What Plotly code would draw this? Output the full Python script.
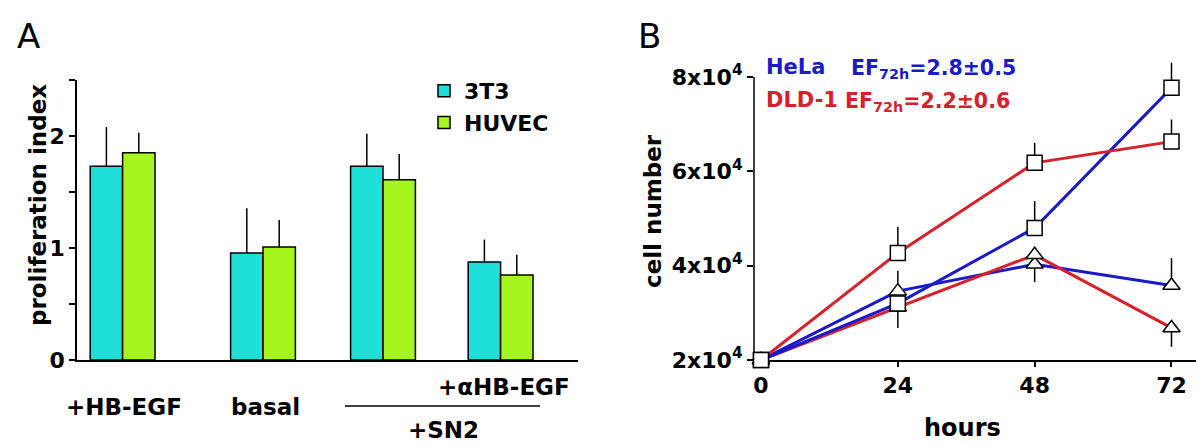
import plotly.graph_objects as go

W, H = 1200, 447

# ---------------- Panel A data ----------------
group_labels = ["+HB-EGF", "basal", "+αHB-EGF"]
t3_mean = [1.73, 0.955, 1.73, 0.875]
t3_err = [0.35, 0.40, 0.29, 0.20]
huvec_mean = [1.85, 1.01, 1.61, 0.76]
huvec_err = [0.18, 0.24, 0.23, 0.18]
a_yticks = [0, 1, 2]
a_yticklabels = ["0", "1", "2"]

# ---------------- Panel B data ----------------
hours = [0, 24, 48, 72]
hela_sq = [2.0e4, 3.2e4, 4.8e4, 7.77e4]
hela_sq_up = [0, 0, 0.57e4, 0.53e4]
hela_sq_dn = [0, 0, 0, 0]
hela_tri = [2.0e4, 3.46e4, 4.03e4, 3.58e4]
hela_tri_up = [0, 0.43e4, 0, 0.58e4]
hela_tri_dn = [0, 0, 0.38e4, 0]
dld_sq = [2.0e4, 4.27e4, 6.18e4, 6.63e4]
dld_sq_up = [0, 0.55e4, 0.42e4, 0.47e4]
dld_sq_dn = [0, 0, 0, 0]
dld_tri = [2.0e4, 3.12e4, 4.23e4, 2.68e4]
dld_tri_up = [0, 0, 0, 0]
dld_tri_dn = [0, 0.44e4, 0, 0.40e4]
b_yticks = [2e4, 4e4, 6e4, 8e4]
b_yticklabels = ["2x10<sup>4</sup>", "4x10<sup>4</sup>", "6x10<sup>4</sup>", "8x10<sup>4</sup>"]

# ---------------- layout helpers (positions / styles) ----------------
def px(x):
    return x / W

def py(y):
    return 1 - y / H

FONT = "DejaVu Sans"
CYAN = "#1fe0d8"
GREEN = "#a6f51e"
BLUE = "#1a1ac8"
RED = "#d8202a"
group_pos = [0.38, 1.55, 2.55, 3.53]
bar_w = 0.27

fig = go.Figure()

fig.add_trace(go.Bar(
    x=group_pos, y=t3_mean, name="<b>3T3</b>", width=bar_w, offset=-bar_w,
    marker=dict(color=CYAN, line=dict(color="black", width=1.5)),
    error_y=dict(type="data", symmetric=False, array=t3_err, arrayminus=[0]*4,
                 width=0, color="black", thickness=1.5),
    xaxis="x", yaxis="y"))
fig.add_trace(go.Bar(
    x=group_pos, y=huvec_mean, name="<b>HUVEC</b>", width=bar_w, offset=0,
    marker=dict(color=GREEN, line=dict(color="black", width=1.5)),
    error_y=dict(type="data", symmetric=False, array=huvec_err, arrayminus=[0]*4,
                 width=0, color="black", thickness=1.5),
    xaxis="x", yaxis="y"))

# Panel B: lines first, then markers on top
series = [
    (hela_tri, hela_tri_up, hela_tri_dn, BLUE, "triangle-up"),
    (dld_tri, dld_tri_up, dld_tri_dn, RED, "triangle-up"),
    (hela_sq, hela_sq_up, hela_sq_dn, BLUE, "square"),
    (dld_sq, dld_sq_up, dld_sq_dn, RED, "square"),
]
for vals, up, dn, col, sym in series:
    fig.add_trace(go.Scatter(x=hours, y=vals, mode="lines",
                             line=dict(color=col, width=3), showlegend=False,
                             xaxis="x2", yaxis="y2"))
for vals, up, dn, col, sym in series:
    fig.add_trace(go.Scatter(
        x=hours, y=vals, mode="markers", showlegend=False, cliponaxis=False,
        marker=dict(symbol=sym, size=15, color="white", line=dict(color="black", width=1.5)),
        error_y=dict(type="data", symmetric=False, array=up, arrayminus=dn,
                     width=0, color="black", thickness=1.5),
        xaxis="x2", yaxis="y2"))

tickfont = dict(family=FONT, size=22, color="black", weight="bold")

fig.update_layout(
    width=W, height=H, margin=dict(l=0, r=0, t=0, b=0, pad=0, autoexpand=False),
    paper_bgcolor="white", plot_bgcolor="white",
    font=dict(family=FONT, color="black"),
    barmode="overlay",
    legend=dict(x=px(424), y=py(70), xanchor="left", yanchor="top",
                font=dict(family=FONT, size=22, color="black"),
                bgcolor="rgba(0,0,0,0)", tracegroupgap=0, itemwidth=30),
    xaxis=dict(domain=[px(77), px(578)], range=[0, 4.175], showline=True,
               linecolor="black", linewidth=1.5, showticklabels=False, ticks="",
               showgrid=False, zeroline=False, anchor="y", automargin=False),
    yaxis=dict(domain=[py(360), py(80)], range=[0, 2.5], tickvals=a_yticks,
               ticktext=a_yticklabels, ticks="outside", ticklen=6, tickwidth=1.5,
               tickcolor="black", showline=True, linecolor="black", linewidth=1.5,
               minor=dict(tick0=0, dtick=0.5, ticks="outside", ticklen=6,
                          tickwidth=1.5, tickcolor="black", showgrid=False),
               showgrid=False, zeroline=False, tickfont=tickfont, anchor="x",
               automargin=False),
    xaxis2=dict(domain=[px(754), px(1196)], range=[-1.23, 76.3], tickvals=hours,
                ticks="outside", ticklen=5, tickwidth=1.5, tickcolor="black",
                showline=True, linecolor="black", linewidth=1.5, showgrid=False,
                zeroline=False, tickfont=tickfont, anchor="y2", layer="below traces",
                automargin=False),
    yaxis2=dict(domain=[py(360), py(48.7)], range=[2e4, 8.6e4], tickvals=b_yticks,
                ticktext=b_yticklabels, ticks="outside", ticklen=6, tickwidth=1.5,
                tickcolor="black", showline=False, showgrid=False, zeroline=False,
                tickfont=tickfont, anchor="x2", layer="below traces", automargin=False),
)

# axis line for panel B y (only up to 8x10^4)
fig.add_shape(type="line", xref="x2 domain", yref="y2", x0=0, x1=0, y0=2e4, y1=8e4,
              line=dict(color="black", width=1.5), layer="below")
# bracket line under +SN2 group
fig.add_shape(type="line", xref="paper", yref="paper", x0=px(345), x1=px(540),
              y0=py(406), y1=py(406), line=dict(color="black", width=1.5))

def ann(text, x, y, size=24, color="black", bold=True, xanchor="center", angle=0):
    fig.add_annotation(text=text, x=x, y=y, xref="paper", yref="paper",
                       xanchor=xanchor, yanchor="middle", showarrow=False, textangle=angle,
                       font=dict(family=FONT, size=size, color=color,
                                 weight="bold" if bold else "normal"))

ann("A", px(15), py(36), size=34, bold=False, xanchor="left")
ann("B", px(636), py(36), size=34, bold=False, xanchor="left")
ann("proliferation index", px(38), py(205), size=23, angle=-90)
ann(group_labels[0], px(124), py(407), size=23)
ann(group_labels[1], px(265), py(407), size=23)
ann(group_labels[2], px(504), py(387), size=23)
ann("+SN2", px(443), py(430), size=23)
ann("cell number", px(653), py(211), size=23, angle=-90)
ann("hours", px(962), py(428), size=24)
ann("HeLa", px(764), py(67), size=21, color=BLUE, xanchor="left")
ann("EF<sub>72h</sub>=2.8±0.5", px(849), py(69), size=20.5, color=BLUE, xanchor="left")
ann("DLD-1", px(764), py(100), size=21, color=RED, xanchor="left")
ann("EF<sub>72h</sub>=2.2±0.6", px(843), py(102), size=20.5, color=RED, xanchor="left")

post = """
var s=document.createElement('style');
s.textContent='html,body{margin:0;padding:0;overflow:hidden;}';
document.head.appendChild(s);
"""
fig.write_html("out.html", post_script=post, config={"displayModeBar": False})
